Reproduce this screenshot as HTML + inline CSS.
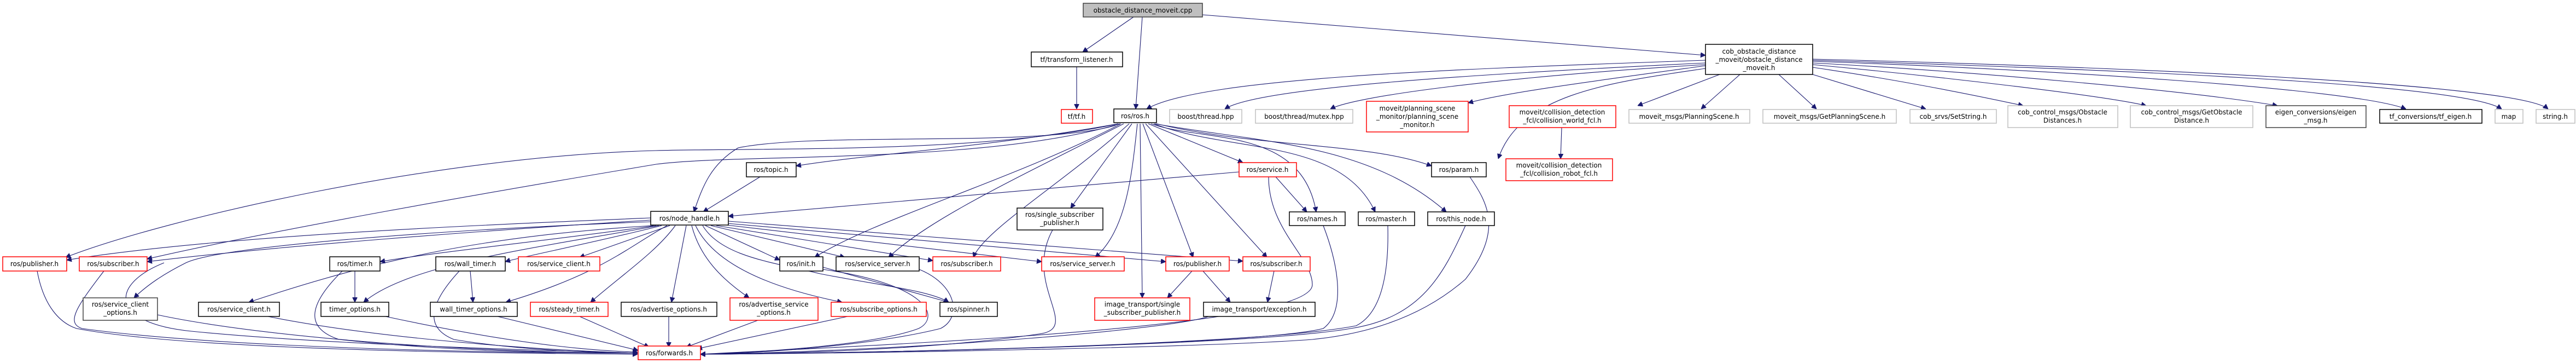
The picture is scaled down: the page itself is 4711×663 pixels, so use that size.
<!DOCTYPE html>
<html><head><meta charset="utf-8"><style>
html,body{margin:0;padding:0;background:#fff;}
svg{display:block;}
text{font-family:"DejaVu Sans","Liberation Sans",sans-serif;font-size:12px;fill:#000;text-anchor:middle;}
.e{fill:none;stroke:#191970;stroke-width:1.1;}
.b{fill:#fff;stroke:#000;stroke-width:1.5;}
.r{fill:#fff;stroke:#ff0000;stroke-width:1.5;}
.g{fill:#fff;stroke:#bfbfbf;stroke-width:1.5;}
.d{fill:#fff;stroke:#404040;stroke-width:1.5;}
</style></head><body>
<svg width="4711" height="663" viewBox="0 0 4711 663" xmlns="http://www.w3.org/2000/svg">
<defs><marker id="a" viewBox="0 0 10 10" refX="10" refY="5" markerWidth="9" markerHeight="9" markerUnits="userSpaceOnUse" orient="auto"><path d="M0,0 L10,5 L0,10 z" fill="#191970" stroke="#191970"/></marker></defs>
<g class="e" marker-end="url(#a)">
<path d="M2073,31 L1980,95"/>
<path d="M2089,31 L2077,199"/>
<path d="M2199,27 L3119,101"/>
<path d="M1969,122 L1969,199"/>
<path d="M3119,110 C2700,125 2200,140 2097,199"/>
<path d="M3119,115 C2700,135 2300,160 2240,199"/>
<path d="M3119,118 C2750,140 2480,175 2433,199"/>
<path d="M3119,120 C2900,150 2750,170 2685,188"/>
<path d="M3119,125 C2950,150 2780,170 2740,290"/>
<path d="M3145,136 L2995,193"/>
<path d="M3182,136 L3111,199"/>
<path d="M3253,136 L3322,199"/>
<path d="M3315,136 L3522,199"/>
<path d="M3315,123 C3500,150 3640,180 3700,193"/>
<path d="M3315,118 C3550,140 3850,175 3925,193"/>
<path d="M3315,115 C3600,130 4000,165 4165,193"/>
<path d="M3315,112 C3700,125 4300,160 4400,199"/>
<path d="M3315,110 C3800,125 4500,150 4575,199"/>
<path d="M3315,108 C3800,120 4600,150 4660,199"/>
<path d="M2856,233 L2854,290"/>
<path d="M2045,226 C1800,280 1400,270 1200,275 C800,285 300,400 120,470"/>
<path d="M2048,226 C1800,300 1350,280 1200,300 C900,350 500,420 269,473"/>
<path d="M2040,229 C1900,270 1500,240 1350,270 C1300,300 1285,340 1269,387"/>
<path d="M2045,226 C1800,270 1600,280 1456,303"/>
<path d="M2050,226 C1850,330 1600,400 1490,470"/>
<path d="M2055,226 C1850,330 1700,400 1625,470"/>
<path d="M2065,226 C1950,330 1800,420 1780,470"/>
<path d="M2070,226 L1958,380"/>
<path d="M2080,226 C2070,320 2060,420 2003,470"/>
<path d="M2085,226 L2089,544"/>
<path d="M2090,226 L2182,470"/>
<path d="M2095,226 L2317,470"/>
<path d="M2100,226 L2273,297"/>
<path d="M2105,226 C2200,260 2380,230 2407,387"/>
<path d="M2110,226 C2250,280 2450,250 2515,387"/>
<path d="M2112,226 C2300,260 2500,260 2645,387"/>
<path d="M2115,226 C2300,270 2500,260 2618,303"/>
<path d="M2266,314 L1332,395"/>
<path d="M2333,323 L2390,387"/>
<path d="M2320,323 C2320,420 2400,470 2400,520 C2400,600 1600,630 1281,647"/>
<path d="M1390,323 L1286,387"/>
<path d="M1190,398 C900,410 400,430 122,475"/>
<path d="M1190,402 C900,420 500,450 269,478"/>
<path d="M1190,405 C800,420 400,450 340,480 C300,500 270,520 245,544"/>
<path d="M1195,412 C900,430 700,470 455,552"/>
<path d="M1200,412 C1000,440 800,460 695,478"/>
<path d="M1205,412 C1000,450 750,480 665,552"/>
<path d="M1210,412 C1100,440 950,470 924,478"/>
<path d="M1220,412 C1150,450 1100,500 925,552"/>
<path d="M1225,412 L1060,470"/>
<path d="M1235,412 C1200,460 1140,500 1080,552"/>
<path d="M1255,412 L1228,552"/>
<path d="M1265,412 C1280,470 1320,510 1370,544"/>
<path d="M1272,412 C1300,470 1380,520 1540,552"/>
<path d="M1290,412 L1426,475"/>
<path d="M1300,412 L1545,470"/>
<path d="M1310,412 L1706,476"/>
<path d="M1320,410 L1905,478"/>
<path d="M1330,408 L2132,478"/>
<path d="M1332,404 L2273,477"/>
<path d="M1285,412 C1320,470 1420,480 1500,500 C1600,520 1700,530 1735,552"/>
<path d="M2180,495 L2135,544"/>
<path d="M2200,495 L2250,552"/>
<path d="M2330,495 L2318,552"/>
<path d="M1505,488 L1735,552"/>
<path d="M649,495 L649,552"/>
<path d="M860,495 L865,552"/>
<path d="M68,495 C80,560 110,590 140,600 C350,640 900,645 1166,647"/>
<path d="M190,495 C140,560 120,590 150,600 C400,635 900,645 1166,645"/>
<path d="M288,575 C500,620 900,645 1166,645"/>
<path d="M490,578 C700,620 1000,640 1166,645"/>
<path d="M705,578 C900,620 1050,640 1166,643"/>
<path d="M626,495 C560,560 560,600 620,620 C800,640 1000,645 1166,645"/>
<path d="M840,495 C780,560 780,600 830,620 C950,640 1100,645 1166,645"/>
<path d="M300,480 C200,520 200,590 350,605 C600,630 1000,640 1166,645"/>
<path d="M910,578 L1167,640"/>
<path d="M1060,578 L1187,634"/>
<path d="M1223,578 L1223,634"/>
<path d="M1386,585 L1255,634"/>
<path d="M1550,578 L1275,637"/>
<path d="M1505,492 C1700,520 1720,580 1680,600 C1600,630 1400,643 1281,647"/>
<path d="M1681,492 C1750,520 1760,580 1720,600 C1600,630 1400,645 1281,647"/>
<path d="M1925,420 C1870,520 1980,600 1900,610 C1700,640 1400,647 1281,647"/>
<path d="M2210,578 C2150,600 1700,640 1281,647"/>
<path d="M2420,412 C2450,490 2460,570 2420,600 C2300,630 1600,645 1281,647"/>
<path d="M2538,412 C2540,490 2530,570 2480,595 C2300,630 1600,645 1281,647"/>
<path d="M2680,412 C2640,500 2600,580 2470,600 C2300,630 1600,645 1281,647"/>
<path d="M2688,323 C2720,370 2750,420 2680,510 C2600,580 2500,610 2400,620 C2200,635 1600,645 1281,647"/>
</g>
<rect x="1981" y="6" width="218" height="25" fill="#bfbfbf" stroke="#404040" stroke-width="1.5"/><text x="2090" y="23">obstacle_distance_moveit.cpp</text>
<rect class="b" x="1886" y="95" width="167" height="27"/><text x="1969" y="113">tf/transform_listener.h</text>
<rect class="r" x="1941" y="200" width="57" height="25"/><text x="1969" y="217">tf/tf.h</text>
<rect class="b" x="2037" y="199" width="78" height="25"/><text x="2076" y="216">ros/ros.h</text>
<rect class="g" x="2139" y="200" width="132" height="25"/><text x="2205" y="217">boost/thread.hpp</text>
<rect class="g" x="2296" y="200" width="178" height="25"/><text x="2385" y="217">boost/thread/mutex.hpp</text>
<rect class="r" x="2499" y="185" width="186" height="56"/><text x="2592" y="202">moveit/planning_scene</text><text x="2592" y="217">_monitor/planning_scene</text><text x="2592" y="232">_monitor.h</text>
<rect class="r" x="2760" y="193" width="195" height="40"/><text x="2857" y="209">moveit/collision_detection</text><text x="2857" y="224">_fcl/collision_world_fcl.h</text>
<rect class="g" x="2979" y="200" width="221" height="25"/><text x="3089" y="217">moveit_msgs/PlanningScene.h</text>
<rect class="g" x="3224" y="200" width="244" height="25"/><text x="3346" y="217">moveit_msgs/GetPlanningScene.h</text>
<rect class="g" x="3493" y="200" width="158" height="25"/><text x="3572" y="217">cob_srvs/SetString.h</text>
<rect class="g" x="3672" y="193" width="201" height="40"/><text x="3772" y="209">cob_control_msgs/Obstacle</text><text x="3772" y="224">Distances.h</text>
<rect class="g" x="3896" y="193" width="224" height="40"/><text x="4008" y="209">cob_control_msgs/GetObstacle</text><text x="4008" y="224">Distance.h</text>
<rect class="d" x="4144" y="193" width="183" height="40"/><text x="4235" y="209">eigen_conversions/eigen</text><text x="4235" y="224">_msg.h</text>
<rect class="b" x="4352" y="200" width="187" height="25"/><text x="4445" y="217">tf_conversions/tf_eigen.h</text>
<rect class="g" x="4563" y="200" width="51" height="25"/><text x="4588" y="217">map</text>
<rect class="g" x="4638" y="200" width="71" height="25"/><text x="4673" y="217">string.h</text>
<rect class="b" x="3119" y="81" width="196" height="55"/><text x="3217" y="98">cob_obstacle_distance</text><text x="3217" y="113">_moveit/obstacle_distance</text><text x="3217" y="128">_moveit.h</text>
<rect class="r" x="2754" y="290" width="195" height="40"/><text x="2851" y="306">moveit/collision_detection</text><text x="2851" y="321">_fcl/collision_robot_fcl.h</text>
<rect class="b" x="2618" y="297" width="100" height="26"/><text x="2668" y="314">ros/param.h</text>
<rect class="b" x="1365" y="297" width="91" height="26"/><text x="1410" y="314">ros/topic.h</text>
<rect class="r" x="2266" y="297" width="105" height="26"/><text x="2318" y="314">ros/service.h</text>
<rect class="b" x="1190" y="386" width="142" height="25"/><text x="1261" y="403">ros/node_handle.h</text>
<rect class="b" x="1860" y="380" width="157" height="40"/><text x="1938" y="396">ros/single_subscriber</text><text x="1938" y="411">_publisher.h</text>
<rect class="b" x="2358" y="387" width="102" height="25"/><text x="2409" y="404">ros/names.h</text>
<rect class="b" x="2484" y="387" width="103" height="25"/><text x="2535" y="404">ros/master.h</text>
<rect class="b" x="2611" y="387" width="122" height="25"/><text x="2672" y="404">ros/this_node.h</text>
<rect class="r" x="5" y="469" width="117" height="26"/><text x="63" y="486">ros/publisher.h</text>
<rect class="r" x="145" y="469" width="124" height="26"/><text x="207" y="486">ros/subscriber.h</text>
<rect class="b" x="603" y="469" width="92" height="26"/><text x="649" y="486">ros/timer.h</text>
<rect class="b" x="797" y="469" width="127" height="26"/><text x="860" y="486">ros/wall_timer.h</text>
<rect class="r" x="948" y="469" width="149" height="26"/><text x="1022" y="486">ros/service_client.h</text>
<rect class="b" x="1426" y="469" width="79" height="26"/><text x="1465" y="486">ros/init.h</text>
<rect class="b" x="1529" y="469" width="152" height="26"/><text x="1605" y="486">ros/service_server.h</text>
<rect class="r" x="1706" y="469" width="124" height="26"/><text x="1768" y="486">ros/subscriber.h</text>
<rect class="r" x="1905" y="469" width="151" height="26"/><text x="1980" y="486">ros/service_server.h</text>
<rect class="r" x="2132" y="469" width="116" height="26"/><text x="2190" y="486">ros/publisher.h</text>
<rect class="r" x="2273" y="469" width="123" height="26"/><text x="2334" y="486">ros/subscriber.h</text>
<rect class="d" x="152" y="544" width="136" height="41"/><text x="220" y="560">ros/service_client</text><text x="220" y="575">_options.h</text>
<rect class="b" x="363" y="552" width="148" height="26"/><text x="437" y="569">ros/service_client.h</text>
<rect class="b" x="587" y="552" width="124" height="26"/><text x="649" y="569">timer_options.h</text>
<rect class="b" x="787" y="552" width="159" height="26"/><text x="866" y="569">wall_timer_options.h</text>
<rect class="r" x="970" y="552" width="142" height="26"/><text x="1041" y="569">ros/steady_timer.h</text>
<rect class="b" x="1136" y="552" width="175" height="26"/><text x="1223" y="569">ros/advertise_options.h</text>
<rect class="r" x="1335" y="544" width="161" height="41"/><text x="1415" y="560">ros/advertise_service</text><text x="1415" y="575">_options.h</text>
<rect class="r" x="1520" y="552" width="174" height="26"/><text x="1607" y="569">ros/subscribe_options.h</text>
<rect class="b" x="1719" y="552" width="105" height="26"/><text x="1771" y="569">ros/spinner.h</text>
<rect class="r" x="2002" y="544" width="174" height="41"/><text x="2089" y="560">image_transport/single</text><text x="2089" y="575">_subscriber_publisher.h</text>
<rect class="b" x="2201" y="552" width="204" height="26"/><text x="2303" y="569">image_transport/exception.h</text>
<rect class="r" x="1167" y="632" width="114" height="25"/><text x="1224" y="649">ros/forwards.h</text>
</svg>
</body></html>
